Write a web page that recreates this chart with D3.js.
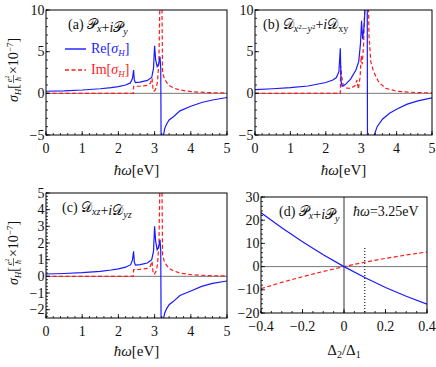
<!DOCTYPE html>
<html>
<head>
<meta charset="utf-8">
<script src="https://cdn.jsdelivr.net/npm/d3@7"></script>
<style>
  body { margin: 0; background: #fff; }
  text { font-family: 'Liberation Serif', serif; }
</style>
</head>
<body>
<div id="chart"></div>
<script>
// --- data ---------------------------------------------------------------
// panel (a)  Px + iPy   [hbar*omega (eV), sigma_H]
var reA = [[0,0.25],[0.5,0.3],[1,0.4],[1.5,0.55],[1.8,0.68],[2.0,0.8],[2.2,1.0],[2.33,1.25],[2.39,1.8],[2.42,2.8],[2.44,1.6],[2.47,1.3],[2.6,1.35],[2.8,1.55],[2.92,1.9],[2.97,3.0],[3.0,5.7],[3.03,4.0],[3.07,3.2],[3.11,3.5],[3.15,4.4],[3.17,3.0],[3.18,-6],[3.21,-12],[3.24,-5.2],[3.28,-4.2],[3.33,-3.7],[3.4,-3.2],[3.52,-2.8],[3.7,-2.1],[4.0,-1.55],[4.3,-1.1],[4.6,-0.8],[5.0,-0.5]];
var imA = [[0,0],[2.41,0],[2.42,0.85],[2.6,0.85],[2.8,0.95],[2.88,1.2],[2.93,1.8],[2.96,0.3],[3.0,0.3],[3.04,0.6],[3.08,1.4],[3.12,4],[3.15,12],[3.2,12],[3.22,2.5],[3.26,1.9],[3.33,1.3],[3.42,0.9],[3.52,0.65],[3.7,0.4],[4.0,0.2],[4.5,0.08],[5,0.04]];
// panel (b)  Dx2-y2 + iDxy
var reB = [[0,0.45],[0.5,0.55],[1,0.68],[1.5,0.88],[2.0,1.3],[2.2,1.6],[2.3,1.9],[2.37,2.6],[2.41,5.4],[2.43,1.5],[2.46,0.85],[2.55,1.05],[2.7,1.7],[2.85,2.8],[2.93,3.8],[2.98,6],[3.01,8.7],[3.04,6.5],[3.08,8],[3.12,11],[3.17,12],[3.18,-12],[3.3,-8],[3.37,-5],[3.45,-4],[3.6,-3.1],[3.8,-2.4],[4.0,-1.9],[4.3,-1.3],[4.6,-0.9],[5,-0.55]];
var imB = [[0,0],[2.41,0],[2.42,3.3],[2.45,2.0],[2.49,1.0],[2.55,0.65],[2.7,0.6],[2.82,0.9],[2.88,1.6],[2.92,0.5],[2.97,2.0],[3.0,4.5],[3.03,3.5],[3.07,6],[3.11,12],[3.2,12],[3.22,7],[3.27,3.8],[3.35,2.6],[3.5,1.3],[3.7,0.6],[4.0,0.25],[4.5,0.1],[5,0.05]];
// panel (c)  Dxz + iDyz
var reC = [[0,0.14],[0.5,0.17],[1,0.22],[1.5,0.3],[1.8,0.38],[2.0,0.45],[2.2,0.55],[2.34,0.7],[2.39,1.0],[2.42,1.5],[2.44,0.85],[2.47,0.68],[2.6,0.7],[2.8,0.8],[2.92,1.0],[2.97,1.5],[3.0,3.0],[3.03,2.1],[3.07,1.6],[3.11,1.75],[3.15,2.2],[3.17,1.5],[3.18,-3],[3.2,-6],[3.24,-2.6],[3.28,-2.2],[3.33,-1.95],[3.4,-1.7],[3.52,-1.5],[3.7,-1.15],[4.0,-0.88],[4.3,-0.6],[4.6,-0.42],[5,-0.28]];
var imC = [[0,0],[2.41,0],[2.42,0.4],[2.6,0.42],[2.8,0.48],[2.88,0.6],[2.93,0.9],[2.96,0.15],[3.0,0.15],[3.04,0.3],[3.08,0.7],[3.12,2],[3.15,6],[3.2,6],[3.22,1.3],[3.26,0.95],[3.33,0.65],[3.42,0.45],[3.52,0.33],[3.7,0.2],[4.0,0.1],[4.5,0.04],[5,0.02]];
// panel (d)  Px + iPy at hbar*omega = 3.25 eV   [Delta2/Delta1, sigma_H]
var reD = [[-0.4,23.2],[-0.3,16.7],[-0.2,10.7],[-0.1,5.1],[0,0],[0.1,-4.7],[0.2,-9.0],[0.3,-12.8],[0.4,-16.2]];
var imD = [[-0.4,-9.5],[-0.3,-6.8],[-0.2,-4.35],[-0.1,-2.1],[0,0],[0.1,1.9],[0.2,3.55],[0.3,5.0],[0.4,6.3]];
var markD = [[0.1,8],[0.1,-20]];

// tick labels
var xTicksE = [0,1,2,3,4,5];
var yTicksAB = [-5,0,5,10];
var yTicksC = [-2,-1,0,1,2,3,4,5];
var xTicksD = [-0.4,-0.2,0,0.2,0.4];
var yTicksD = [-20,-10,0,10,20,30];

var FONT = "'Liberation Serif', serif";

var svg = d3.select('#chart').append('svg')
  .attr('width', 436).attr('height', 367);

function fmt(d) { return String(d).replace('-', '\u2212'); }

function range(a, b, s) {
  var out = [];
  for (var v = a; v <= b + 1e-9; v += s) out.push(+v.toFixed(4));
  return out;
}

// every text goes through here so the serif face is set on the element itself
function txt(parent, x, y, size) {
  return parent.append('text').attr('x', x).attr('y', y)
    .style('font-family', FONT).style('font-size', size + 'px').style('fill', '#111');
}

function makePanel(p) {
  var x = d3.scaleLinear().domain(p.xd).range([p.left, p.right]);
  var y = d3.scaleLinear().domain(p.yd).range([p.bottom, p.top]);
  var g = svg.append('g');

  g.append('clipPath').attr('id', 'clip' + p.id)
    .append('rect')
    .attr('x', p.left).attr('y', p.top)
    .attr('width', p.right - p.left).attr('height', p.bottom - p.top);

  var inner = g.append('g').attr('clip-path', 'url(#clip' + p.id + ')');

  // zero lines
  inner.append('line')
    .attr('x1', p.left).attr('x2', p.right)
    .attr('y1', y(0)).attr('y2', y(0))
    .attr('stroke', '#777').attr('stroke-width', 1);
  if (p.vzero) {
    inner.append('line')
      .attr('x1', x(0)).attr('x2', x(0))
      .attr('y1', p.top).attr('y2', p.bottom)
      .attr('stroke', '#333').attr('stroke-width', 1);
  }

  var line = d3.line()
    .x(function(d) { return x(d[0]); })
    .y(function(d) { return y(d[1]); });

  inner.append('path').datum(p.im).attr('d', line)
    .attr('fill', 'none').attr('stroke', '#ff1a1a')
    .attr('stroke-width', 1.2).attr('stroke-dasharray', '4,2.5');
  inner.append('path').datum(p.re).attr('d', line)
    .attr('fill', 'none').attr('stroke', '#1a1aff')
    .attr('stroke-width', 1.2);
  if (p.mark) {
    inner.append('path').datum(p.mark).attr('d', line)
      .attr('fill', 'none').attr('stroke', '#222')
      .attr('stroke-width', 1.2).attr('stroke-dasharray', '1,2');
  }

  // frame
  g.append('rect')
    .attr('x', p.left).attr('y', p.top)
    .attr('width', p.right - p.left).attr('height', p.bottom - p.top)
    .attr('fill', 'none').attr('stroke', '#000').attr('stroke-width', 1);

  // ticks, inward, left and bottom only
  g.selectAll('.xminor').data(p.xMinor).enter().append('line')
    .attr('x1', function(d) { return x(d); }).attr('x2', function(d) { return x(d); })
    .attr('y1', p.bottom).attr('y2', p.bottom - 2)
    .attr('stroke', '#000').attr('stroke-width', 0.8);
  g.selectAll('.xmajor').data(p.xTicks).enter().append('line')
    .attr('x1', function(d) { return x(d); }).attr('x2', function(d) { return x(d); })
    .attr('y1', p.bottom).attr('y2', p.bottom - 4)
    .attr('stroke', '#000').attr('stroke-width', 0.8);
  g.selectAll('.yminor').data(p.yMinor).enter().append('line')
    .attr('y1', function(d) { return y(d); }).attr('y2', function(d) { return y(d); })
    .attr('x1', p.left).attr('x2', p.left + 2)
    .attr('stroke', '#000').attr('stroke-width', 0.8);
  g.selectAll('.ymajor').data(p.yTicks).enter().append('line')
    .attr('y1', function(d) { return y(d); }).attr('y2', function(d) { return y(d); })
    .attr('x1', p.left).attr('x2', p.left + 4)
    .attr('stroke', '#000').attr('stroke-width', 0.8);

  p.xTicks.forEach(function(d) {
    txt(g, x(d), p.bottom + 18, 14).attr('text-anchor', 'middle').text(fmt(d));
  });
  p.yTicks.forEach(function(d) {
    txt(g, p.left - 1.5, y(d) + 4.5, 14).attr('text-anchor', 'end').text(fmt(d));
  });

  return g;
}

makePanel({id: 'a', left: 46, right: 227, top: 10, bottom: 135,
  xd: [0, 5], yd: [-5, 10], re: reA, im: imA,
  xTicks: xTicksE, xMinor: range(0, 5, 0.2), yTicks: yTicksAB, yMinor: range(-5, 10, 1)});
makePanel({id: 'b', left: 255, right: 432, top: 10, bottom: 135,
  xd: [0, 5], yd: [-5, 10], re: reB, im: imB,
  xTicks: xTicksE, xMinor: range(0, 5, 0.2), yTicks: yTicksAB, yMinor: range(-5, 10, 1)});
makePanel({id: 'c', left: 46, right: 227, top: 193, bottom: 318,
  xd: [0, 5], yd: [-2.5, 5], re: reC, im: imC,
  xTicks: xTicksE, xMinor: range(0, 5, 0.2), yTicks: yTicksC, yMinor: range(-2.4, 5, 0.2)});
makePanel({id: 'd', left: 261, right: 427, top: 197, bottom: 313,
  xd: [-0.4, 0.4], yd: [-20, 30], re: reD, im: imD, vzero: true, mark: markD,
  xTicks: xTicksD, xMinor: range(-0.4, 0.4, 0.05), yTicks: yTicksD, yMinor: range(-20, 30, 2)});

// --- axis titles ------------------------------------------------------------
function xTitle(cx, by) {
  var t = txt(svg, cx, by, 15).attr('text-anchor', 'middle');
  t.append('tspan').style('font-style', 'italic').text('\u0127\u03c9');
  t.append('tspan').text('[eV]');
}
xTitle(136.5, 175);
xTitle(343.5, 175);
xTitle(136.5, 356);

var dl = txt(svg, 344, 355, 15).attr('text-anchor', 'middle');
dl.append('tspan').text('\u0394');
dl.append('tspan').attr('dy', 3).style('font-size', '10px').text('2');
dl.append('tspan').attr('dy', -3).text('/\u0394');
dl.append('tspan').attr('dy', 3).style('font-size', '10px').text('1');

function yTitle(bx, cy) {
  var g = svg.append('g');
  var t1 = txt(g, 0, 0, 14);
  t1.append('tspan').style('font-style', 'italic').text('\u03c3');
  t1.append('tspan').attr('dy', 3).style('font-style', 'italic').style('font-size', '9px').text('H');
  t1.append('tspan').attr('dy', -3).text('[');
  var w1 = t1.node().getComputedTextLength();
  var fw = 8;
  var num = txt(g, w1 + 1 + fw / 2, -6.5, 8).attr('text-anchor', 'middle');
  num.append('tspan').style('font-style', 'italic').text('e');
  num.append('tspan').attr('dy', -3).style('font-size', '6px').text('2');
  g.append('line').attr('x1', w1 + 1).attr('x2', w1 + 1 + fw)
    .attr('y1', -4.5).attr('y2', -4.5).attr('stroke', '#111').attr('stroke-width', 0.6);
  txt(g, w1 + 1 + fw / 2, 2.5, 8).attr('text-anchor', 'middle')
    .style('font-style', 'italic').text('\u0127');
  var t2 = txt(g, w1 + fw + 2, 0, 14);
  t2.append('tspan').text('\u00d710');
  t2.append('tspan').attr('dy', -5).style('font-size', '9px').text('\u22127');
  t2.append('tspan').attr('dy', 5).text(']');
  var W = w1 + fw + 2 + t2.node().getComputedTextLength();
  g.attr('transform', 'translate(' + bx + ',' + (cy + W / 2) + ') rotate(-90)');
}
yTitle(18, 70);
yTitle(18, 253);

// --- panel labels -----------------------------------------------------------
function scriptLabel(x0, y0, tag, letter, sub1, sub2) {
  var t = txt(svg, x0, y0, 14);
  t.append('tspan').text(tag + ' ');
  t.append('tspan').text(letter);
  sub1(t);
  t.append('tspan').text('+');
  t.append('tspan').style('font-style', 'italic').text('i');
  t.append('tspan').text(letter);
  sub2(t);
  return t;
}
function subText(s) {
  return function(t) {
    t.append('tspan').attr('dy', 3).style('font-style', 'italic').style('font-size', '10px').text(s);
    t.append('tspan').attr('dy', -3).text('');
  };
}

scriptLabel(68, 29, '(a)', '\ud835\udcab', subText('x'), subText('y'));
scriptLabel(263, 29, '(b)', '\ud835\udc9f', function(t) {
  t.append('tspan').attr('dy', 3).style('font-style', 'italic').style('font-size', '10px').text('x');
  t.append('tspan').attr('dy', -3).style('font-size', '7px').text('2');
  t.append('tspan').attr('dy', 3).style('font-size', '10px').text('\u2212');
  t.append('tspan').style('font-style', 'italic').style('font-size', '10px').text('y');
  t.append('tspan').attr('dy', -3).style('font-size', '7px').text('2');
  t.append('tspan').attr('dy', 0).text('');
}, function(t) {
  t.append('tspan').attr('dy', 3).style('font-size', '10px').text('xy');
  t.append('tspan').attr('dy', -3).text('');
});
scriptLabel(62, 212, '(c)', '\ud835\udc9f', subText('xz'), subText('yz'));
scriptLabel(279, 216, '(d)', '\ud835\udcab', subText('x'), subText('y'));
var hw = txt(svg, 353, 216, 14);
hw.append('tspan').style('font-style', 'italic').text('\u0127\u03c9');
hw.append('tspan').text('=3.25eV');

// --- legend in panel (a) ------------------------------------------------------
var legend = [
  {name: 'Re', color: '#1a1aff', dash: null, y: 49},
  {name: 'Im', color: '#ff1a1a', dash: '4,2.5', y: 70}
];
legend.forEach(function(l) {
  svg.append('line').attr('x1', 65).attr('x2', 86).attr('y1', l.y).attr('y2', l.y)
    .attr('stroke', l.color).attr('stroke-width', 1.4).attr('stroke-dasharray', l.dash);
  var t = txt(svg, 91, l.y + 4, 14).style('fill', l.color);
  t.append('tspan').text(l.name + '[');
  t.append('tspan').style('font-style', 'italic').text('\u03c3');
  t.append('tspan').attr('dy', 3).style('font-style', 'italic').style('font-size', '9px').text('H');
  t.append('tspan').attr('dy', -3).text(']');
});
</script>
</body>
</html>
